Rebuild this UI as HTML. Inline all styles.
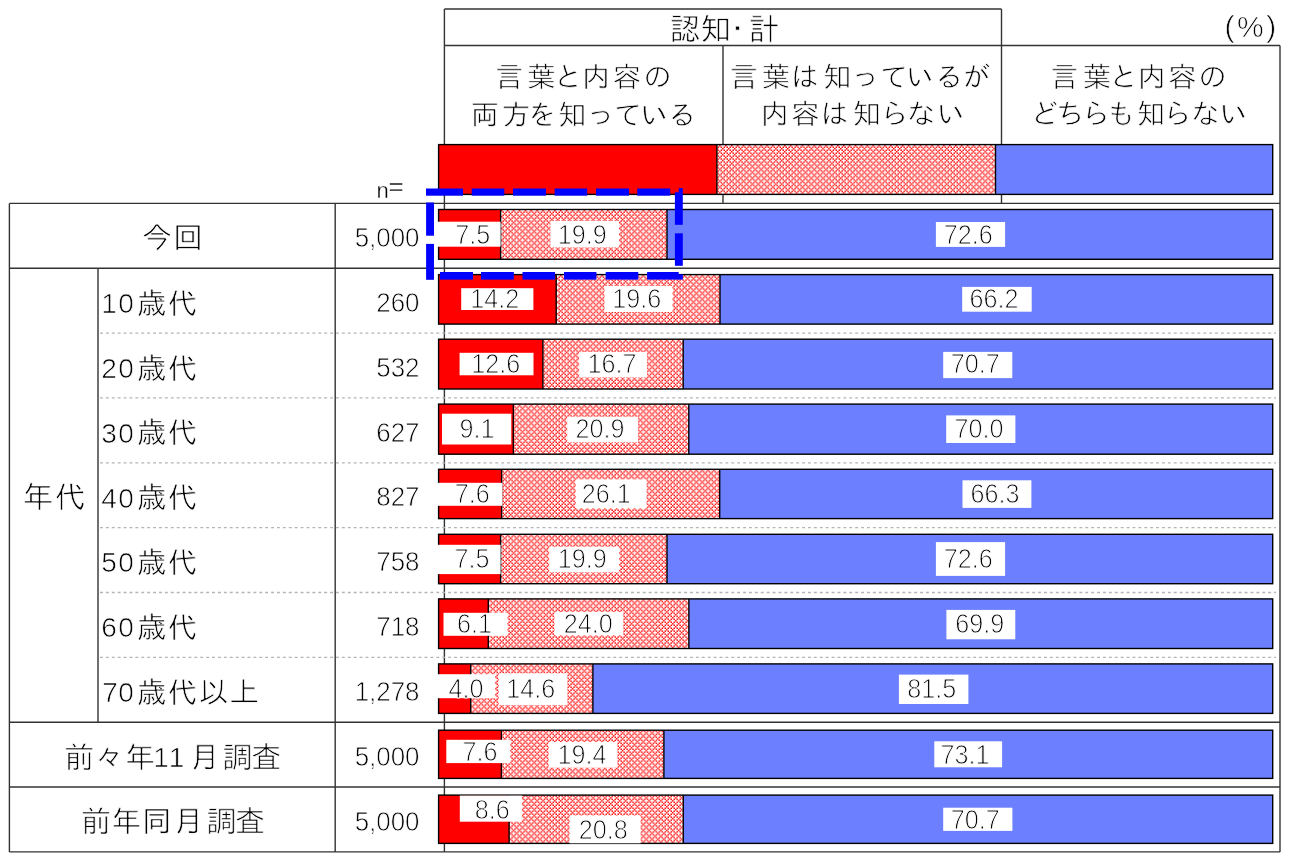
<!DOCTYPE html><html lang="ja"><head><meta charset="utf-8"><title>認知度</title><style>html,body{margin:0;padding:0;background:#fff;overflow:hidden}svg{display:block;will-change:transform}text{stroke:#fff;stroke-width:0.7px;stroke-linejoin:round}text.n{stroke-width:1.0px}text.m{stroke-width:0.75px}</style></head><body><svg width="1289" height="862" viewBox="0 0 1289 862">
<defs><pattern id="hx" patternUnits="userSpaceOnUse" width="4" height="4" patternTransform="translate(2.8,0.46) scale(1.474,1.4754)"><rect width="4" height="4" fill="#fff"/><rect x="0" y="0" width="1" height="1" fill="#ff0000"/><rect x="1" y="1" width="1" height="1" fill="#ff0000"/><rect x="3" y="1" width="1" height="1" fill="#ff0000"/><rect x="2" y="2" width="1" height="1" fill="#ff0000"/><rect x="1" y="3" width="1" height="1" fill="#ff0000"/><rect x="3" y="3" width="1" height="1" fill="#ff0000"/></pattern><filter id="bl" x="0" y="0" width="1" height="1"><feGaussianBlur stdDeviation="0.33"/></filter></defs>
<rect x="0.00" y="0.00" width="1289.00" height="862.00" fill="#fff"/>
<line x1="444.40" y1="9.00" x2="1001.50" y2="9.00" stroke="#333" stroke-width="1.4" />
<line x1="444.40" y1="45.50" x2="1280.00" y2="45.50" stroke="#333" stroke-width="1.4" />
<line x1="1001.50" y1="9.00" x2="1001.50" y2="203.40" stroke="#333" stroke-width="1.4" />
<line x1="723.00" y1="45.50" x2="723.00" y2="203.40" stroke="#333" stroke-width="1.4" />
<line x1="1280.00" y1="45.50" x2="1280.00" y2="851.90" stroke="#333" stroke-width="1.4" />
<line x1="444.40" y1="9.00" x2="444.40" y2="851.90" stroke="#333" stroke-width="1.4" />
<line x1="9.40" y1="203.40" x2="9.40" y2="851.90" stroke="#333" stroke-width="1.4" />
<line x1="335.20" y1="203.40" x2="335.20" y2="851.90" stroke="#333" stroke-width="1.4" />
<line x1="98.00" y1="268.25" x2="98.00" y2="722.20" stroke="#333" stroke-width="1.4" />
<line x1="9.40" y1="203.40" x2="1280.00" y2="203.40" stroke="#333" stroke-width="1.4" />
<line x1="9.40" y1="268.25" x2="1280.00" y2="268.25" stroke="#333" stroke-width="1.4" />
<line x1="9.40" y1="722.20" x2="1280.00" y2="722.20" stroke="#333" stroke-width="1.4" />
<line x1="9.40" y1="787.05" x2="1280.00" y2="787.05" stroke="#333" stroke-width="1.4" />
<line x1="9.40" y1="851.90" x2="1280.00" y2="851.90" stroke="#333" stroke-width="1.4" />
<line x1="100.00" y1="333.10" x2="1276.00" y2="333.10" stroke="#b4b4b4" stroke-width="1.3" stroke-dasharray="2.9 3"/>
<line x1="100.00" y1="397.95" x2="1276.00" y2="397.95" stroke="#b4b4b4" stroke-width="1.3" stroke-dasharray="2.9 3"/>
<line x1="100.00" y1="462.80" x2="1276.00" y2="462.80" stroke="#b4b4b4" stroke-width="1.3" stroke-dasharray="2.9 3"/>
<line x1="100.00" y1="527.65" x2="1276.00" y2="527.65" stroke="#b4b4b4" stroke-width="1.3" stroke-dasharray="2.9 3"/>
<line x1="100.00" y1="592.50" x2="1276.00" y2="592.50" stroke="#b4b4b4" stroke-width="1.3" stroke-dasharray="2.9 3"/>
<line x1="100.00" y1="657.35" x2="1276.00" y2="657.35" stroke="#b4b4b4" stroke-width="1.3" stroke-dasharray="2.9 3"/>
<text x="669.4 700.2 722.2 748.6" y="40.4" font-family="'IPAGothic', sans-serif" font-size="31">認知・計</text>
<text x="1224.5" y="37.1" font-family="'Liberation Sans', sans-serif" font-size="30" letter-spacing="2.5">(%)</text>
<text x="494.9 527.2 553.9 582.1 612.4 643.2" y="87.28" font-family="'IPAGothic', sans-serif" font-size="28.4">言葉と内容の</text>
<text x="470.5 501.7 527.8 558.1 586.5 614.0 639.9 667.9" y="124.63" font-family="'IPAGothic', sans-serif" font-size="28.4">両方を知っている</text>
<text x="729.7 761.7 790.5 823.0 851.2 880.0 905.7 935.0 962.3" y="87.28" font-family="'IPAGothic', sans-serif" font-size="28.4">言葉は知っているが</text>
<text x="760.7 790.9 820.2 852.4 880.0 906.5 936.4" y="123.93" font-family="'IPAGothic', sans-serif" font-size="28.4">内容は知らない</text>
<text x="1050.2 1082.8 1109.6 1137.7 1168.0 1198.3" y="87.28" font-family="'IPAGothic', sans-serif" font-size="28.4">言葉と内容の</text>
<text x="1030.5 1056.1 1081.4 1106.9 1136.8 1163.0 1190.7 1219.3" y="123.93" font-family="'IPAGothic', sans-serif" font-size="28.4">どちらも知らない</text>
<rect x="438.60" y="144.60" width="278.30" height="49.80" fill="#ff0000"/>
<rect x="716.90" y="144.60" width="278.60" height="49.80" fill="url(#hx)" filter="url(#bl)"/>
<rect x="995.50" y="144.60" width="277.20" height="49.80" fill="#6c7fff"/>
<rect x="438.60" y="144.60" width="834.10" height="49.80" fill="none" stroke="#000" stroke-width="1.4"/>
<line x1="716.90" y1="144.60" x2="716.90" y2="194.40" stroke="#000" stroke-width="1.4" />
<line x1="995.50" y1="144.60" x2="995.50" y2="194.40" stroke="#000" stroke-width="1.4" />
<text x="376.5" y="198" font-family="'Liberation Sans', sans-serif" font-size="22" fill="#000" style="stroke-width:0.35px">n<tspan x="388.4" dy="-2.6" font-size="26">=</tspan></text>
<rect x="438.60" y="209.50" width="62.00" height="49.80" fill="#ff0000"/>
<rect x="500.60" y="209.50" width="166.40" height="49.80" fill="url(#hx)" filter="url(#bl)"/>
<rect x="667.00" y="209.50" width="605.70" height="49.80" fill="#6c7fff"/>
<rect x="438.60" y="209.50" width="834.10" height="49.80" fill="none" stroke="#000" stroke-width="1.4"/>
<line x1="500.60" y1="209.50" x2="500.60" y2="259.30" stroke="#000" stroke-width="1.4" />
<line x1="667.00" y1="209.50" x2="667.00" y2="259.30" stroke="#000" stroke-width="1.4" />
<rect x="436.00" y="221.70" width="64.60" height="25.00" fill="#fff"/>
<text class="n" transform="translate(472.85,243.70) scale(0.9,1)" font-family="'Liberation Sans', sans-serif" font-size="28" text-anchor="middle" fill="#000">7.5</text>
<rect x="550.40" y="221.00" width="68.60" height="26.50" fill="#fff"/>
<text class="n" transform="translate(582.35,243.70) scale(0.9,1)" font-family="'Liberation Sans', sans-serif" font-size="28" text-anchor="middle" fill="#000">19.9</text>
<rect x="935.90" y="222.00" width="69.20" height="24.90" fill="#fff"/>
<text class="n" transform="translate(968.15,243.85) scale(0.9,1)" font-family="'Liberation Sans', sans-serif" font-size="28" text-anchor="middle" fill="#000">72.6</text>
<rect x="438.60" y="274.60" width="117.60" height="49.50" fill="#ff0000"/>
<rect x="556.20" y="274.60" width="163.80" height="49.50" fill="url(#hx)" filter="url(#bl)"/>
<rect x="720.00" y="274.60" width="552.70" height="49.50" fill="#6c7fff"/>
<rect x="438.60" y="274.60" width="834.10" height="49.50" fill="none" stroke="#000" stroke-width="1.4"/>
<line x1="556.20" y1="274.60" x2="556.20" y2="324.10" stroke="#000" stroke-width="1.4" />
<line x1="720.00" y1="274.60" x2="720.00" y2="324.10" stroke="#000" stroke-width="1.4" />
<rect x="461.20" y="288.20" width="72.20" height="21.80" fill="#fff"/>
<text class="n" transform="translate(494.85,308.40) scale(0.9,1)" font-family="'Liberation Sans', sans-serif" font-size="28" text-anchor="middle" fill="#000">14.2</text>
<rect x="604.50" y="286.00" width="68.00" height="26.00" fill="#fff"/>
<text class="n" transform="translate(636.65,308.40) scale(0.9,1)" font-family="'Liberation Sans', sans-serif" font-size="28" text-anchor="middle" fill="#000">19.6</text>
<rect x="962.20" y="286.90" width="69.50" height="24.80" fill="#fff"/>
<text class="n" transform="translate(994.10,308.40) scale(0.9,1)" font-family="'Liberation Sans', sans-serif" font-size="28" text-anchor="middle" fill="#000">66.2</text>
<rect x="438.60" y="339.20" width="104.30" height="49.80" fill="#ff0000"/>
<rect x="542.90" y="339.20" width="140.30" height="49.80" fill="url(#hx)" filter="url(#bl)"/>
<rect x="683.20" y="339.20" width="589.50" height="49.80" fill="#6c7fff"/>
<rect x="438.60" y="339.20" width="834.10" height="49.80" fill="none" stroke="#000" stroke-width="1.4"/>
<line x1="542.90" y1="339.20" x2="542.90" y2="389.00" stroke="#000" stroke-width="1.4" />
<line x1="683.20" y1="339.20" x2="683.20" y2="389.00" stroke="#000" stroke-width="1.4" />
<rect x="459.60" y="352.80" width="73.90" height="22.50" fill="#fff"/>
<text class="n" transform="translate(495.65,373.40) scale(0.9,1)" font-family="'Liberation Sans', sans-serif" font-size="28" text-anchor="middle" fill="#000">12.6</text>
<rect x="579.10" y="352.00" width="67.80" height="25.50" fill="#fff"/>
<text class="n" transform="translate(611.90,373.40) scale(0.9,1)" font-family="'Liberation Sans', sans-serif" font-size="28" text-anchor="middle" fill="#000">16.7</text>
<rect x="943.20" y="351.90" width="69.10" height="26.20" fill="#fff"/>
<text class="n" transform="translate(975.30,373.40) scale(0.9,1)" font-family="'Liberation Sans', sans-serif" font-size="28" text-anchor="middle" fill="#000">70.7</text>
<rect x="438.60" y="404.10" width="74.75" height="50.10" fill="#ff0000"/>
<rect x="513.35" y="404.10" width="175.45" height="50.10" fill="url(#hx)" filter="url(#bl)"/>
<rect x="688.80" y="404.10" width="583.90" height="50.10" fill="#6c7fff"/>
<rect x="438.60" y="404.10" width="834.10" height="50.10" fill="none" stroke="#000" stroke-width="1.4"/>
<line x1="513.35" y1="404.10" x2="513.35" y2="454.20" stroke="#000" stroke-width="1.4" />
<line x1="688.80" y1="404.10" x2="688.80" y2="454.20" stroke="#000" stroke-width="1.4" />
<rect x="442.00" y="413.70" width="69.30" height="30.80" fill="#fff"/>
<text class="n" transform="translate(477.05,438.30) scale(0.9,1)" font-family="'Liberation Sans', sans-serif" font-size="28" text-anchor="middle" fill="#000">9.1</text>
<rect x="567.20" y="416.80" width="70.80" height="25.60" fill="#fff"/>
<text class="n" transform="translate(599.95,438.30) scale(0.9,1)" font-family="'Liberation Sans', sans-serif" font-size="28" text-anchor="middle" fill="#000">20.9</text>
<rect x="946.20" y="415.40" width="69.20" height="27.60" fill="#fff"/>
<text class="n" transform="translate(978.90,438.30) scale(0.9,1)" font-family="'Liberation Sans', sans-serif" font-size="28" text-anchor="middle" fill="#000">70.0</text>
<rect x="438.60" y="469.30" width="63.00" height="49.30" fill="#ff0000"/>
<rect x="501.60" y="469.30" width="218.10" height="49.30" fill="url(#hx)" filter="url(#bl)"/>
<rect x="719.70" y="469.30" width="553.00" height="49.30" fill="#6c7fff"/>
<rect x="438.60" y="469.30" width="834.10" height="49.30" fill="none" stroke="#000" stroke-width="1.4"/>
<line x1="501.60" y1="469.30" x2="501.60" y2="518.60" stroke="#000" stroke-width="1.4" />
<line x1="719.70" y1="469.30" x2="719.70" y2="518.60" stroke="#000" stroke-width="1.4" />
<rect x="436.00" y="482.80" width="66.30" height="23.00" fill="#fff"/>
<text class="n" transform="translate(472.35,503.00) scale(0.9,1)" font-family="'Liberation Sans', sans-serif" font-size="28" text-anchor="middle" fill="#000">7.6</text>
<rect x="575.70" y="479.40" width="70.80" height="29.00" fill="#fff"/>
<text class="n" transform="translate(606.30,503.00) scale(0.9,1)" font-family="'Liberation Sans', sans-serif" font-size="28" text-anchor="middle" fill="#000">26.1</text>
<rect x="962.50" y="480.30" width="68.90" height="27.60" fill="#fff"/>
<text class="n" transform="translate(995.05,503.00) scale(0.9,1)" font-family="'Liberation Sans', sans-serif" font-size="28" text-anchor="middle" fill="#000">66.3</text>
<rect x="438.60" y="534.30" width="62.00" height="49.40" fill="#ff0000"/>
<rect x="500.60" y="534.30" width="166.40" height="49.40" fill="url(#hx)" filter="url(#bl)"/>
<rect x="667.00" y="534.30" width="605.70" height="49.40" fill="#6c7fff"/>
<rect x="438.60" y="534.30" width="834.10" height="49.40" fill="none" stroke="#000" stroke-width="1.4"/>
<line x1="500.60" y1="534.30" x2="500.60" y2="583.70" stroke="#000" stroke-width="1.4" />
<line x1="667.00" y1="534.30" x2="667.00" y2="583.70" stroke="#000" stroke-width="1.4" />
<rect x="436.00" y="544.80" width="64.60" height="29.30" fill="#fff"/>
<text class="n" transform="translate(471.95,568.15) scale(0.9,1)" font-family="'Liberation Sans', sans-serif" font-size="28" text-anchor="middle" fill="#000">7.5</text>
<rect x="549.20" y="546.80" width="70.00" height="25.60" fill="#fff"/>
<text class="n" transform="translate(582.25,568.15) scale(0.9,1)" font-family="'Liberation Sans', sans-serif" font-size="28" text-anchor="middle" fill="#000">19.9</text>
<rect x="935.90" y="542.10" width="69.20" height="33.80" fill="#fff"/>
<text class="n" transform="translate(968.15,568.20) scale(0.9,1)" font-family="'Liberation Sans', sans-serif" font-size="28" text-anchor="middle" fill="#000">72.6</text>
<rect x="438.60" y="598.90" width="49.70" height="49.60" fill="#ff0000"/>
<rect x="488.30" y="598.90" width="200.60" height="49.60" fill="url(#hx)" filter="url(#bl)"/>
<rect x="688.90" y="598.90" width="583.80" height="49.60" fill="#6c7fff"/>
<rect x="438.60" y="598.90" width="834.10" height="49.60" fill="none" stroke="#000" stroke-width="1.4"/>
<line x1="488.30" y1="598.90" x2="488.30" y2="648.50" stroke="#000" stroke-width="1.4" />
<line x1="688.90" y1="598.90" x2="688.90" y2="648.50" stroke="#000" stroke-width="1.4" />
<rect x="443.50" y="612.80" width="64.00" height="23.00" fill="#fff"/>
<text class="n" transform="translate(474.55,632.80) scale(0.9,1)" font-family="'Liberation Sans', sans-serif" font-size="28" text-anchor="middle" fill="#000">6.1</text>
<rect x="554.50" y="612.00" width="68.70" height="23.40" fill="#fff"/>
<text class="n" transform="translate(588.35,632.80) scale(0.9,1)" font-family="'Liberation Sans', sans-serif" font-size="28" text-anchor="middle" fill="#000">24.0</text>
<rect x="946.40" y="609.90" width="68.90" height="29.40" fill="#fff"/>
<text class="n" transform="translate(979.75,632.80) scale(0.9,1)" font-family="'Liberation Sans', sans-serif" font-size="28" text-anchor="middle" fill="#000">69.9</text>
<rect x="438.60" y="663.90" width="32.10" height="49.50" fill="#ff0000"/>
<rect x="470.70" y="663.90" width="122.20" height="49.50" fill="url(#hx)" filter="url(#bl)"/>
<rect x="592.90" y="663.90" width="679.80" height="49.50" fill="#6c7fff"/>
<rect x="438.60" y="663.90" width="834.10" height="49.50" fill="none" stroke="#000" stroke-width="1.4"/>
<line x1="470.70" y1="663.90" x2="470.70" y2="713.40" stroke="#000" stroke-width="1.4" />
<line x1="592.90" y1="663.90" x2="592.90" y2="713.40" stroke="#000" stroke-width="1.4" />
<rect x="436.00" y="674.20" width="59.20" height="24.00" fill="#fff"/>
<text class="n" transform="translate(465.95,697.85) scale(0.9,1)" font-family="'Liberation Sans', sans-serif" font-size="28" text-anchor="middle" fill="#000">4.0</text>
<rect x="498.70" y="673.30" width="68.60" height="31.90" fill="#fff"/>
<text class="n" transform="translate(530.70,697.85) scale(0.9,1)" font-family="'Liberation Sans', sans-serif" font-size="28" text-anchor="middle" fill="#000">14.6</text>
<rect x="898.90" y="674.60" width="69.50" height="29.40" fill="#fff"/>
<text class="n" transform="translate(931.70,697.85) scale(0.9,1)" font-family="'Liberation Sans', sans-serif" font-size="28" text-anchor="middle" fill="#000">81.5</text>
<rect x="438.60" y="730.20" width="62.80" height="48.20" fill="#ff0000"/>
<rect x="501.40" y="730.20" width="162.50" height="48.20" fill="url(#hx)" filter="url(#bl)"/>
<rect x="663.90" y="730.20" width="608.80" height="48.20" fill="#6c7fff"/>
<rect x="438.60" y="730.20" width="834.10" height="48.20" fill="none" stroke="#000" stroke-width="1.4"/>
<line x1="501.40" y1="730.20" x2="501.40" y2="778.40" stroke="#000" stroke-width="1.4" />
<line x1="663.90" y1="730.20" x2="663.90" y2="778.40" stroke="#000" stroke-width="1.4" />
<rect x="446.30" y="739.80" width="64.00" height="23.30" fill="#fff"/>
<text class="n" transform="translate(480.10,761.00) scale(0.9,1)" font-family="'Liberation Sans', sans-serif" font-size="28" text-anchor="middle" fill="#000">7.6</text>
<rect x="548.70" y="742.00" width="68.60" height="25.70" fill="#fff"/>
<text class="n" transform="translate(581.95,764.40) scale(0.9,1)" font-family="'Liberation Sans', sans-serif" font-size="28" text-anchor="middle" fill="#000">19.4</text>
<rect x="934.30" y="741.30" width="67.80" height="26.00" fill="#fff"/>
<text class="n" transform="translate(965.05,764.40) scale(0.9,1)" font-family="'Liberation Sans', sans-serif" font-size="28" text-anchor="middle" fill="#000">73.1</text>
<rect x="438.60" y="795.10" width="70.50" height="48.30" fill="#ff0000"/>
<rect x="509.10" y="795.10" width="174.20" height="48.30" fill="url(#hx)" filter="url(#bl)"/>
<rect x="683.30" y="795.10" width="589.40" height="48.30" fill="#6c7fff"/>
<rect x="438.60" y="795.10" width="834.10" height="48.30" fill="none" stroke="#000" stroke-width="1.4"/>
<line x1="509.10" y1="795.10" x2="509.10" y2="843.40" stroke="#000" stroke-width="1.4" />
<line x1="683.30" y1="795.10" x2="683.30" y2="843.40" stroke="#000" stroke-width="1.4" />
<rect x="459.80" y="795.60" width="62.10" height="26.10" fill="#fff"/>
<text class="n" transform="translate(492.30,819.30) scale(0.9,1)" font-family="'Liberation Sans', sans-serif" font-size="28" text-anchor="middle" fill="#000">8.6</text>
<rect x="569.60" y="815.40" width="71.00" height="27.90" fill="#fff"/>
<text class="n" transform="translate(603.20,839.20) scale(0.9,1)" font-family="'Liberation Sans', sans-serif" font-size="28" text-anchor="middle" fill="#000">20.8</text>
<rect x="943.20" y="807.70" width="69.20" height="23.20" fill="#fff"/>
<text class="n" transform="translate(975.30,829.30) scale(0.9,1)" font-family="'Liberation Sans', sans-serif" font-size="28" text-anchor="middle" fill="#000">70.7</text>
<text x="142.0 173.0" y="248.00" font-family="'IPAGothic', sans-serif" font-size="30">今回</text>
<text x="22.5 54.8" y="508.33" font-family="'IPAGothic', sans-serif" font-size="31">年代</text>
<text x="101.2 118.3" y="313.03" font-family="'Liberation Sans', sans-serif" font-size="28">10</text>
<text x="136.9 168.1" y="313.73" font-family="'IPAGothic', sans-serif" font-size="30">歳代</text>
<text x="101.2 118.3" y="377.88" font-family="'Liberation Sans', sans-serif" font-size="28">20</text>
<text x="136.9 168.1" y="378.58" font-family="'IPAGothic', sans-serif" font-size="30">歳代</text>
<text x="101.2 118.3" y="442.73" font-family="'Liberation Sans', sans-serif" font-size="28">30</text>
<text x="136.9 168.1" y="443.43" font-family="'IPAGothic', sans-serif" font-size="30">歳代</text>
<text x="101.2 118.3" y="507.57" font-family="'Liberation Sans', sans-serif" font-size="28">40</text>
<text x="136.9 168.1" y="508.27" font-family="'IPAGothic', sans-serif" font-size="30">歳代</text>
<text x="101.2 118.3" y="572.42" font-family="'Liberation Sans', sans-serif" font-size="28">50</text>
<text x="136.9 168.1" y="573.12" font-family="'IPAGothic', sans-serif" font-size="30">歳代</text>
<text x="101.2 118.3" y="637.27" font-family="'Liberation Sans', sans-serif" font-size="28">60</text>
<text x="136.9 168.1" y="637.97" font-family="'IPAGothic', sans-serif" font-size="30">歳代</text>
<text x="102.3 118.3" y="702.12" font-family="'Liberation Sans', sans-serif" font-size="28">70</text>
<text x="136.9 168.1 198.6 229.3" y="702.82" font-family="'IPAGothic', sans-serif" font-size="30">歳代以上</text>
<text x="64.6 94.2 125.1" y="767.75" font-family="'IPAGothic', sans-serif" font-size="30">前々年</text>
<text x="153.3 168.8" y="767.05" font-family="'Liberation Sans', sans-serif" font-size="28">11</text>
<text x="189.7 222.4 251.3" y="767.75" font-family="'IPAGothic', sans-serif" font-size="30">月調査</text>
<text x="81.3 111.3 141.9 173.4 206.4 235.0" y="832.25" font-family="'IPAGothic', sans-serif" font-size="30">前年同月調査</text>
<text class="m" transform="translate(419.50,247.07) scale(0.96,1)" font-family="'Liberation Sans', sans-serif" font-size="27" text-anchor="end" fill="#000">5,000</text>
<text class="m" transform="translate(419.50,311.93) scale(0.96,1)" font-family="'Liberation Sans', sans-serif" font-size="27" text-anchor="end" fill="#000">260</text>
<text class="m" transform="translate(419.50,376.78) scale(0.96,1)" font-family="'Liberation Sans', sans-serif" font-size="27" text-anchor="end" fill="#000">532</text>
<text class="m" transform="translate(419.50,441.62) scale(0.96,1)" font-family="'Liberation Sans', sans-serif" font-size="27" text-anchor="end" fill="#000">627</text>
<text class="m" transform="translate(419.50,506.47) scale(0.96,1)" font-family="'Liberation Sans', sans-serif" font-size="27" text-anchor="end" fill="#000">827</text>
<text class="m" transform="translate(419.50,571.32) scale(0.96,1)" font-family="'Liberation Sans', sans-serif" font-size="27" text-anchor="end" fill="#000">758</text>
<text class="m" transform="translate(419.50,636.17) scale(0.96,1)" font-family="'Liberation Sans', sans-serif" font-size="27" text-anchor="end" fill="#000">718</text>
<text class="m" transform="translate(419.50,701.02) scale(0.96,1)" font-family="'Liberation Sans', sans-serif" font-size="27" text-anchor="end" fill="#000">1,278</text>
<text class="m" transform="translate(419.50,765.87) scale(0.96,1)" font-family="'Liberation Sans', sans-serif" font-size="27" text-anchor="end" fill="#000">5,000</text>
<text class="m" transform="translate(419.50,830.72) scale(0.96,1)" font-family="'Liberation Sans', sans-serif" font-size="27" text-anchor="end" fill="#000">5,000</text>
<rect x="426.00" y="188.50" width="37.00" height="7.20" fill="#0000ff"/>
<rect x="471.70" y="188.50" width="32.60" height="7.20" fill="#0000ff"/>
<rect x="513.00" y="188.50" width="33.00" height="7.20" fill="#0000ff"/>
<rect x="554.70" y="188.50" width="32.50" height="7.20" fill="#0000ff"/>
<rect x="596.00" y="188.50" width="33.00" height="7.20" fill="#0000ff"/>
<rect x="637.20" y="188.50" width="33.00" height="7.20" fill="#0000ff"/>
<rect x="674.90" y="192.20" width="7.90" height="32.60" fill="#0000ff"/>
<rect x="674.90" y="233.30" width="7.90" height="32.50" fill="#0000ff"/>
<rect x="678.70" y="188.20" width="4.10" height="4.20" fill="#0000ff"/>
<rect x="440.00" y="272.00" width="33.00" height="7.60" fill="#0000ff"/>
<rect x="481.00" y="272.00" width="32.80" height="7.60" fill="#0000ff"/>
<rect x="522.50" y="272.00" width="32.50" height="7.60" fill="#0000ff"/>
<rect x="564.00" y="272.00" width="32.40" height="7.60" fill="#0000ff"/>
<rect x="605.70" y="272.00" width="32.60" height="7.60" fill="#0000ff"/>
<rect x="647.10" y="272.00" width="31.60" height="7.60" fill="#0000ff"/>
<rect x="678.00" y="274.30" width="4.80" height="5.30" fill="#0000ff"/>
<rect x="426.10" y="202.50" width="7.90" height="33.20" fill="#0000ff"/>
<rect x="426.10" y="243.90" width="7.90" height="35.90" fill="#0000ff"/>
</svg></body></html>
